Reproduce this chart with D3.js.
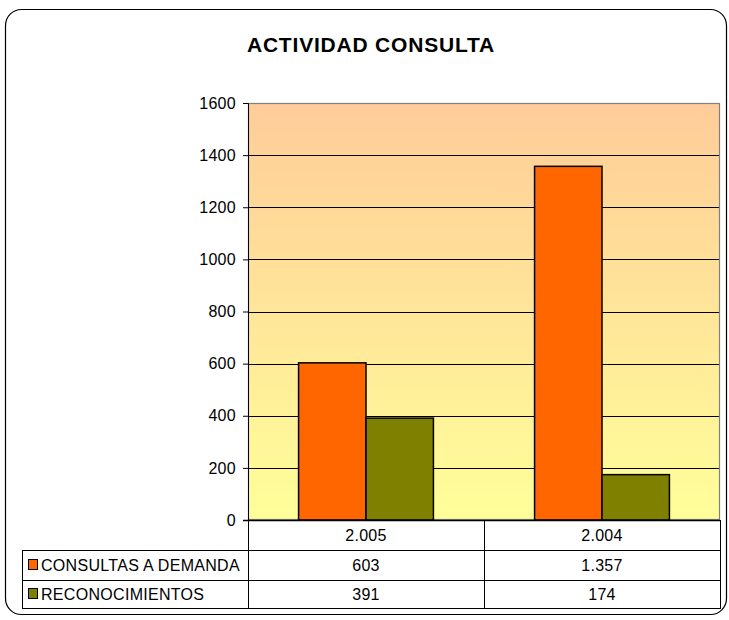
<!DOCTYPE html>
<html>
<head>
<meta charset="utf-8">
<script src="https://cdn.jsdelivr.net/npm/d3@7"></script>
<style>
  body { margin: 0; background: #fff; }
  text { font-family: "Liberation Sans", Arial, sans-serif; }
</style>
</head>
<body>
<svg id="chart"></svg>
<script>
// Chart data
var years = ["2.005", "2.004"];
var seriesNames = ["CONSULTAS A DEMANDA", "RECONOCIMIENTOS"];
var consultas = [603, 1357];
var reconocimientos = [391, 174];
var valueLabels = [["603", "1.357"], ["391", "174"]];
var yTicks = [0, 200, 400, 600, 800, 1000, 1200, 1400, 1600];

var colors = ["#FF6600", "#808000"];
var width = 729, height = 620;
var fs = 16, ls = 0.3;

var svg = d3.select("#chart")
    .attr("width", width)
    .attr("height", height);

// Outer frame
svg.append("rect")
    .attr("x", 5.5).attr("y", 9.5)
    .attr("width", 721).attr("height", 605)
    .attr("rx", 16).attr("ry", 16)
    .attr("fill", "#fff")
    .attr("stroke", "#000")
    .attr("stroke-width", 1.2);

// Title
svg.append("text")
    .attr("x", 371).attr("y", 52)
    .attr("text-anchor", "middle")
    .attr("font-size", 21)
    .attr("font-weight", "bold")
    .attr("letter-spacing", 0.8)
    .text("ACTIVIDAD CONSULTA");

var plot = { left: 248, right: 720, top: 103, bottom: 520 };

var x = d3.scaleBand()
    .domain(years)
    .range([plot.left, plot.right]);

var x1 = d3.scaleBand()
    .domain(seriesNames)
    .range([0, x.bandwidth()])
    .paddingOuter(0.75);

var y = d3.scaleLinear()
    .domain([0, 1600])
    .range([plot.bottom, plot.top]);

// Background gradient
var grad = svg.append("defs").append("linearGradient")
    .attr("id", "bg").attr("x1", 0).attr("y1", 0).attr("x2", 0).attr("y2", 1);
grad.append("stop").attr("offset", "0%").attr("stop-color", "#FFCC99");
grad.append("stop").attr("offset", "100%").attr("stop-color", "#FFFF99");

svg.append("rect")
    .attr("x", plot.left).attr("y", plot.top)
    .attr("width", plot.right - plot.left)
    .attr("height", plot.bottom - plot.top)
    .attr("fill", "url(#bg)");

// Gridlines
svg.selectAll(".grid")
    .data(yTicks.slice(1, -1))
    .enter().append("line")
    .attr("x1", plot.left).attr("x2", plot.right)
    .attr("y1", function(d) { return Math.round(y(d)) + 0.5; })
    .attr("y2", function(d) { return Math.round(y(d)) + 0.5; })
    .attr("stroke", "#000")
    .attr("stroke-width", 1);

// Plot border
svg.append("rect")
    .attr("x", plot.left + 0.5).attr("y", plot.top + 0.5)
    .attr("width", plot.right - plot.left - 1)
    .attr("height", plot.bottom - plot.top - 1)
    .attr("fill", "none")
    .attr("stroke", "#808080")
    .attr("stroke-width", 1.2);

// Bars
var rows = years.map(function(yr, i) {
    return { year: yr, values: [consultas[i], reconocimientos[i]] };
});

var groups = svg.selectAll(".grp")
    .data(rows)
    .enter().append("g")
    .attr("transform", function(d) { return "translate(" + x(d.year) + ",0)"; });

groups.selectAll("rect")
    .data(function(d) { return d.values; })
    .enter().append("rect")
    .attr("x", function(d, i) { return x1(seriesNames[i]); })
    .attr("y", function(d) { return y(d); })
    .attr("width", x1.bandwidth())
    .attr("height", function(d) { return plot.bottom - y(d); })
    .attr("fill", function(d, i) { return colors[i]; })
    .attr("stroke", "#000")
    .attr("stroke-width", 1.5);

// Y axis
var yAxis = d3.axisLeft(y)
    .tickValues(yTicks)
    .tickFormat(d3.format("d"))
    .tickSize(5)
    .tickPadding(7);

var ya = svg.append("g")
    .attr("transform", "translate(" + plot.left + ",0)")
    .call(yAxis);
ya.select(".domain").attr("stroke", "#000");
ya.selectAll("text")
    .attr("font-size", fs)
    .attr("letter-spacing", ls)
    .attr("fill", "#000")
    .style("font-family", "Liberation Sans, Arial, sans-serif");

// Bottom axis line
svg.append("line")
    .attr("x1", plot.left - 5).attr("x2", plot.right)
    .attr("y1", plot.bottom + 0.5).attr("y2", plot.bottom + 0.5)
    .attr("stroke", "#000").attr("stroke-width", 1.5);

// Data table
var tableLeft = 22;
var rowY = [520, 550, 580, 608];
var tbl = svg.append("g").attr("stroke", "#000").attr("stroke-width", 1);

tbl.append("line").attr("x1", plot.left + 0.5).attr("x2", plot.left + 0.5).attr("y1", rowY[0]).attr("y2", rowY[3]);
years.forEach(function(yr) {
    tbl.append("line")
        .attr("x1", x(yr) + x.bandwidth() + 0.5).attr("x2", x(yr) + x.bandwidth() + 0.5)
        .attr("y1", rowY[0]).attr("y2", rowY[3]);
});
tbl.append("line").attr("x1", tableLeft + 0.5).attr("x2", tableLeft + 0.5).attr("y1", rowY[1]).attr("y2", rowY[3]);
[1, 2, 3].forEach(function(r) {
    tbl.append("line")
        .attr("x1", tableLeft).attr("x2", plot.right + 1)
        .attr("y1", rowY[r] + 0.5).attr("y2", rowY[r] + 0.5);
});

svg.selectAll(".yr")
    .data(years)
    .enter().append("text")
    .attr("x", function(d) { return x(d) + x.bandwidth() / 2; })
    .attr("y", (rowY[0] + rowY[1]) / 2 + 6)
    .attr("text-anchor", "middle")
    .attr("font-size", fs)
    .attr("letter-spacing", ls)
    .text(function(d) { return d; });

seriesNames.forEach(function(name, r) {
    var cy = (rowY[r + 1] + rowY[r + 2]) / 2;
    svg.append("rect")
        .attr("x", tableLeft + 6.5).attr("y", cy - 5.5)
        .attr("width", 9).attr("height", 10)
        .attr("fill", colors[r]).attr("stroke", "#000");
    svg.append("text")
        .attr("x", tableLeft + 19).attr("y", cy + 6)
        .attr("font-size", fs)
        .attr("letter-spacing", ls)
        .text(name);
    years.forEach(function(yr, i) {
        svg.append("text")
            .attr("x", x(yr) + x.bandwidth() / 2)
            .attr("y", cy + 6)
            .attr("text-anchor", "middle")
            .attr("font-size", fs)
            .attr("letter-spacing", ls)
            .text(valueLabels[r][i]);
    });
});
</script>
</body>
</html>
